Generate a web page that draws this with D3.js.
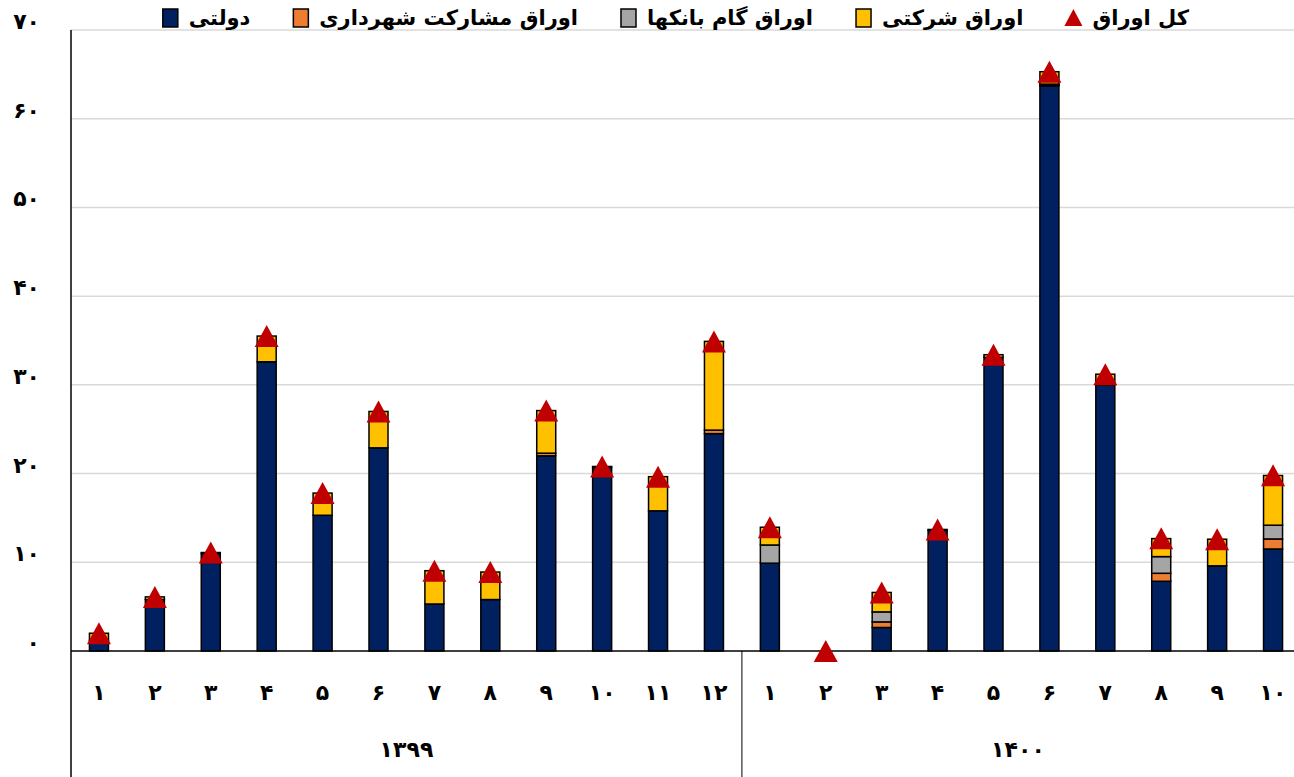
<!DOCTYPE html>
<meta charset="utf-8">
<style>
  body { margin: 0; background: #fff; }
  svg { display: block; font-family: "DejaVu Sans", sans-serif; font-weight: bold; }
  .grid line { stroke: #d9d9d9; stroke-width: 1.5; }
  .seg { stroke: #000; stroke-width: 1.5; }
  .tick-label { font-size: 22px; fill: #000; }
  .legend text { font-size: 21px; fill: #000; }
</style>
<svg width="1294" height="777"></svg>
<script src="https://d3js.org/d3.v7.min.js"></script>
<script>

// month labels (1399: 1..12, 1400: 1..10)
var months = ["۱","۲","۳","۴","۵","۶","۷","۸","۹","۱۰","۱۱","۱۲",
              "۱","۲","۳","۴","۵","۶","۷","۸","۹","۱۰"];
var yearLabels = ["۱۳۹۹", "۱۴۰۰"];
var yearCounts = [12, 10];

// stacked series, bottom to top
var dolati    = [1.2, 5.8, 11.0, 32.6, 15.3, 22.9, 5.3, 5.8, 22.0, 20.7, 15.8, 24.5,
                 9.9, 0, 2.65, 13.6, 33.1, 63.7, 30.0, 7.86, 9.6, 11.5];
var shahrdari = [0, 0, 0, 0, 0, 0, 0, 0, 0.3, 0, 0, 0.4,
                 0, 0, 0.63, 0, 0, 0.1, 0, 0.9, 0, 1.13];
var gam       = [0, 0, 0, 0, 0, 0, 0, 0, 0, 0, 0, 0,
                 2.05, 0, 1.13, 0, 0, 0.1, 0, 1.88, 0, 1.55];
var sherkati  = [0.8, 0.3, 0.1, 2.9, 2.5, 4.1, 3.75, 3.1, 4.8, 0.1, 3.85, 10.0,
                 2.0, 0, 2.19, 0.1, 0.3, 1.4, 1.2, 2.03, 3.0, 5.6];
var total     = [2.0, 6.1, 11.1, 35.5, 17.8, 27.0, 9.05, 8.9, 27.1, 20.8, 19.65, 34.9,
                 13.95, 0, 6.6, 13.7, 33.4, 65.3, 31.2, 12.7, 12.6, 19.8];

var yTicks = [0, 10, 20, 30, 40, 50, 60, 70];
var yTickLabels = ["۰","۱۰","۲۰","۳۰","۴۰","۵۰","۶۰","۷۰"];

var seriesNames = ["دولتی", "اوراق مشارکت شهرداری", "اوراق گام بانکها", "اوراق شرکتی"];
var seriesColors = ["#002060", "#ED7D31", "#A5A5A5", "#FFC000"];
var totalName = "کل اوراق";
var totalColor = "#C00000";

var svg = d3.select("svg"),
    width = +svg.attr("width"),
    height = +svg.attr("height");

var plotL = 71, plotR = 1301, plotT = 30, plotB = 651;

var idx = d3.range(months.length);
var x = d3.scaleBand().domain(idx).range([plotL, plotR]).paddingInner(0.66).paddingOuter(0.33);
var y = d3.scaleLinear().domain([0, 70]).range([plotB, plotT]);

// gridlines
svg.append("g").attr("class", "grid")
  .selectAll("line").data(yTicks.filter(function(d) { return d > 0; }))
  .enter().append("line")
  .attr("x1", plotL).attr("x2", width)
  .attr("y1", function(d) { return y(d); })
  .attr("y2", function(d) { return y(d); });

// y tick labels
svg.append("g").selectAll("text").data(yTicks)
  .enter().append("text")
  .attr("class", "tick-label")
  .attr("x", 40)
  .attr("y", function(d) { return y(d) - 1; })
  .attr("text-anchor", "end")
  .text(function(d, i) { return yTickLabels[i]; });

// stacked bars
var rows = idx.map(function(i) {
  return { i: i, s0: dolati[i], s1: shahrdari[i], s2: gam[i], s3: sherkati[i] };
});
var stack = d3.stack().keys(["s0", "s1", "s2", "s3"]);
var layers = stack(rows);

svg.append("g").selectAll("g").data(layers)
  .enter().append("g")
  .attr("fill", function(d, k) { return seriesColors[k]; })
  .selectAll("rect").data(function(d) { return d.filter(function(p) { return p[1] - p[0] > 0; }); })
  .enter().append("rect")
  .attr("class", "seg")
  .attr("x", function(d) { return x(d.data.i); })
  .attr("width", x.bandwidth())
  .attr("y", function(d) { return y(d[1]); })
  .attr("height", function(d) { return y(d[0]) - y(d[1]); });

// axes lines
svg.append("line").attr("x1", plotL).attr("x2", plotL).attr("y1", plotT).attr("y2", height)
  .attr("stroke", "#000").attr("stroke-width", 1.5);
svg.append("line").attr("x1", plotL).attr("x2", width).attr("y1", plotB).attr("y2", plotB)
  .attr("stroke", "#000").attr("stroke-width", 1.5);

// group separator and labels
var start = 0;
yearCounts.forEach(function(n, g) {
  var x0 = x.step() * start + plotL, x1 = x.step() * (start + n) + plotL;
  if (g > 0) {
    svg.append("line").attr("x1", x0).attr("x2", x0).attr("y1", plotB).attr("y2", height)
      .attr("stroke", "#000").attr("stroke-width", 1);
  }
  svg.append("text").attr("class", "tick-label")
    .attr("x", (x0 + Math.min(x1, width)) / 2).attr("y", 757)
    .attr("text-anchor", "middle").text(yearLabels[g]);
  start += n;
});

svg.append("g").selectAll("text").data(idx)
  .enter().append("text")
  .attr("class", "tick-label")
  .attr("x", function(i) { return x(i) + x.bandwidth() / 2; })
  .attr("y", 700)
  .attr("text-anchor", "middle")
  .text(function(i) { return months[i]; });

// total markers
svg.append("g").selectAll("path").data(idx)
  .enter().append("path")
  .attr("d", "M0,-11L12,11L-12,11Z")
  .attr("fill", totalColor)
  .attr("transform", function(i) {
    return "translate(" + (x(i) + x.bandwidth() / 2) + "," + y(total[i]) + ")";
  });

// legend, laid out right to left
var legend = svg.append("g").attr("class", "legend");
var items = [{ name: totalName, color: totalColor, tri: true }];
for (var k = seriesNames.length - 1; k >= 0; k--) {
  items.push({ name: seriesNames[k], color: seriesColors[k], tri: false });
}
var cursor = 1189, ly = 18;
items.forEach(function(it) {
  var t = legend.append("text")
    .attr("x", cursor).attr("y", ly + 7)
    .attr("text-anchor", "end")
    .text(it.name);
  var w = t.node().getComputedTextLength();
  var sx = cursor - w - 10;
  if (it.tri) {
    legend.append("path").attr("d", "M0,-9L9,8L-9,8Z")
      .attr("fill", it.color)
      .attr("transform", "translate(" + (sx - 9) + "," + ly + ")");
  } else {
    legend.append("rect")
      .attr("x", sx - 16).attr("y", ly - 9)
      .attr("width", 15).attr("height", 18)
      .attr("fill", it.color).attr("stroke", "#000").attr("stroke-width", 1.5);
  }
  cursor = sx - 18 - 41;
});

</script>
